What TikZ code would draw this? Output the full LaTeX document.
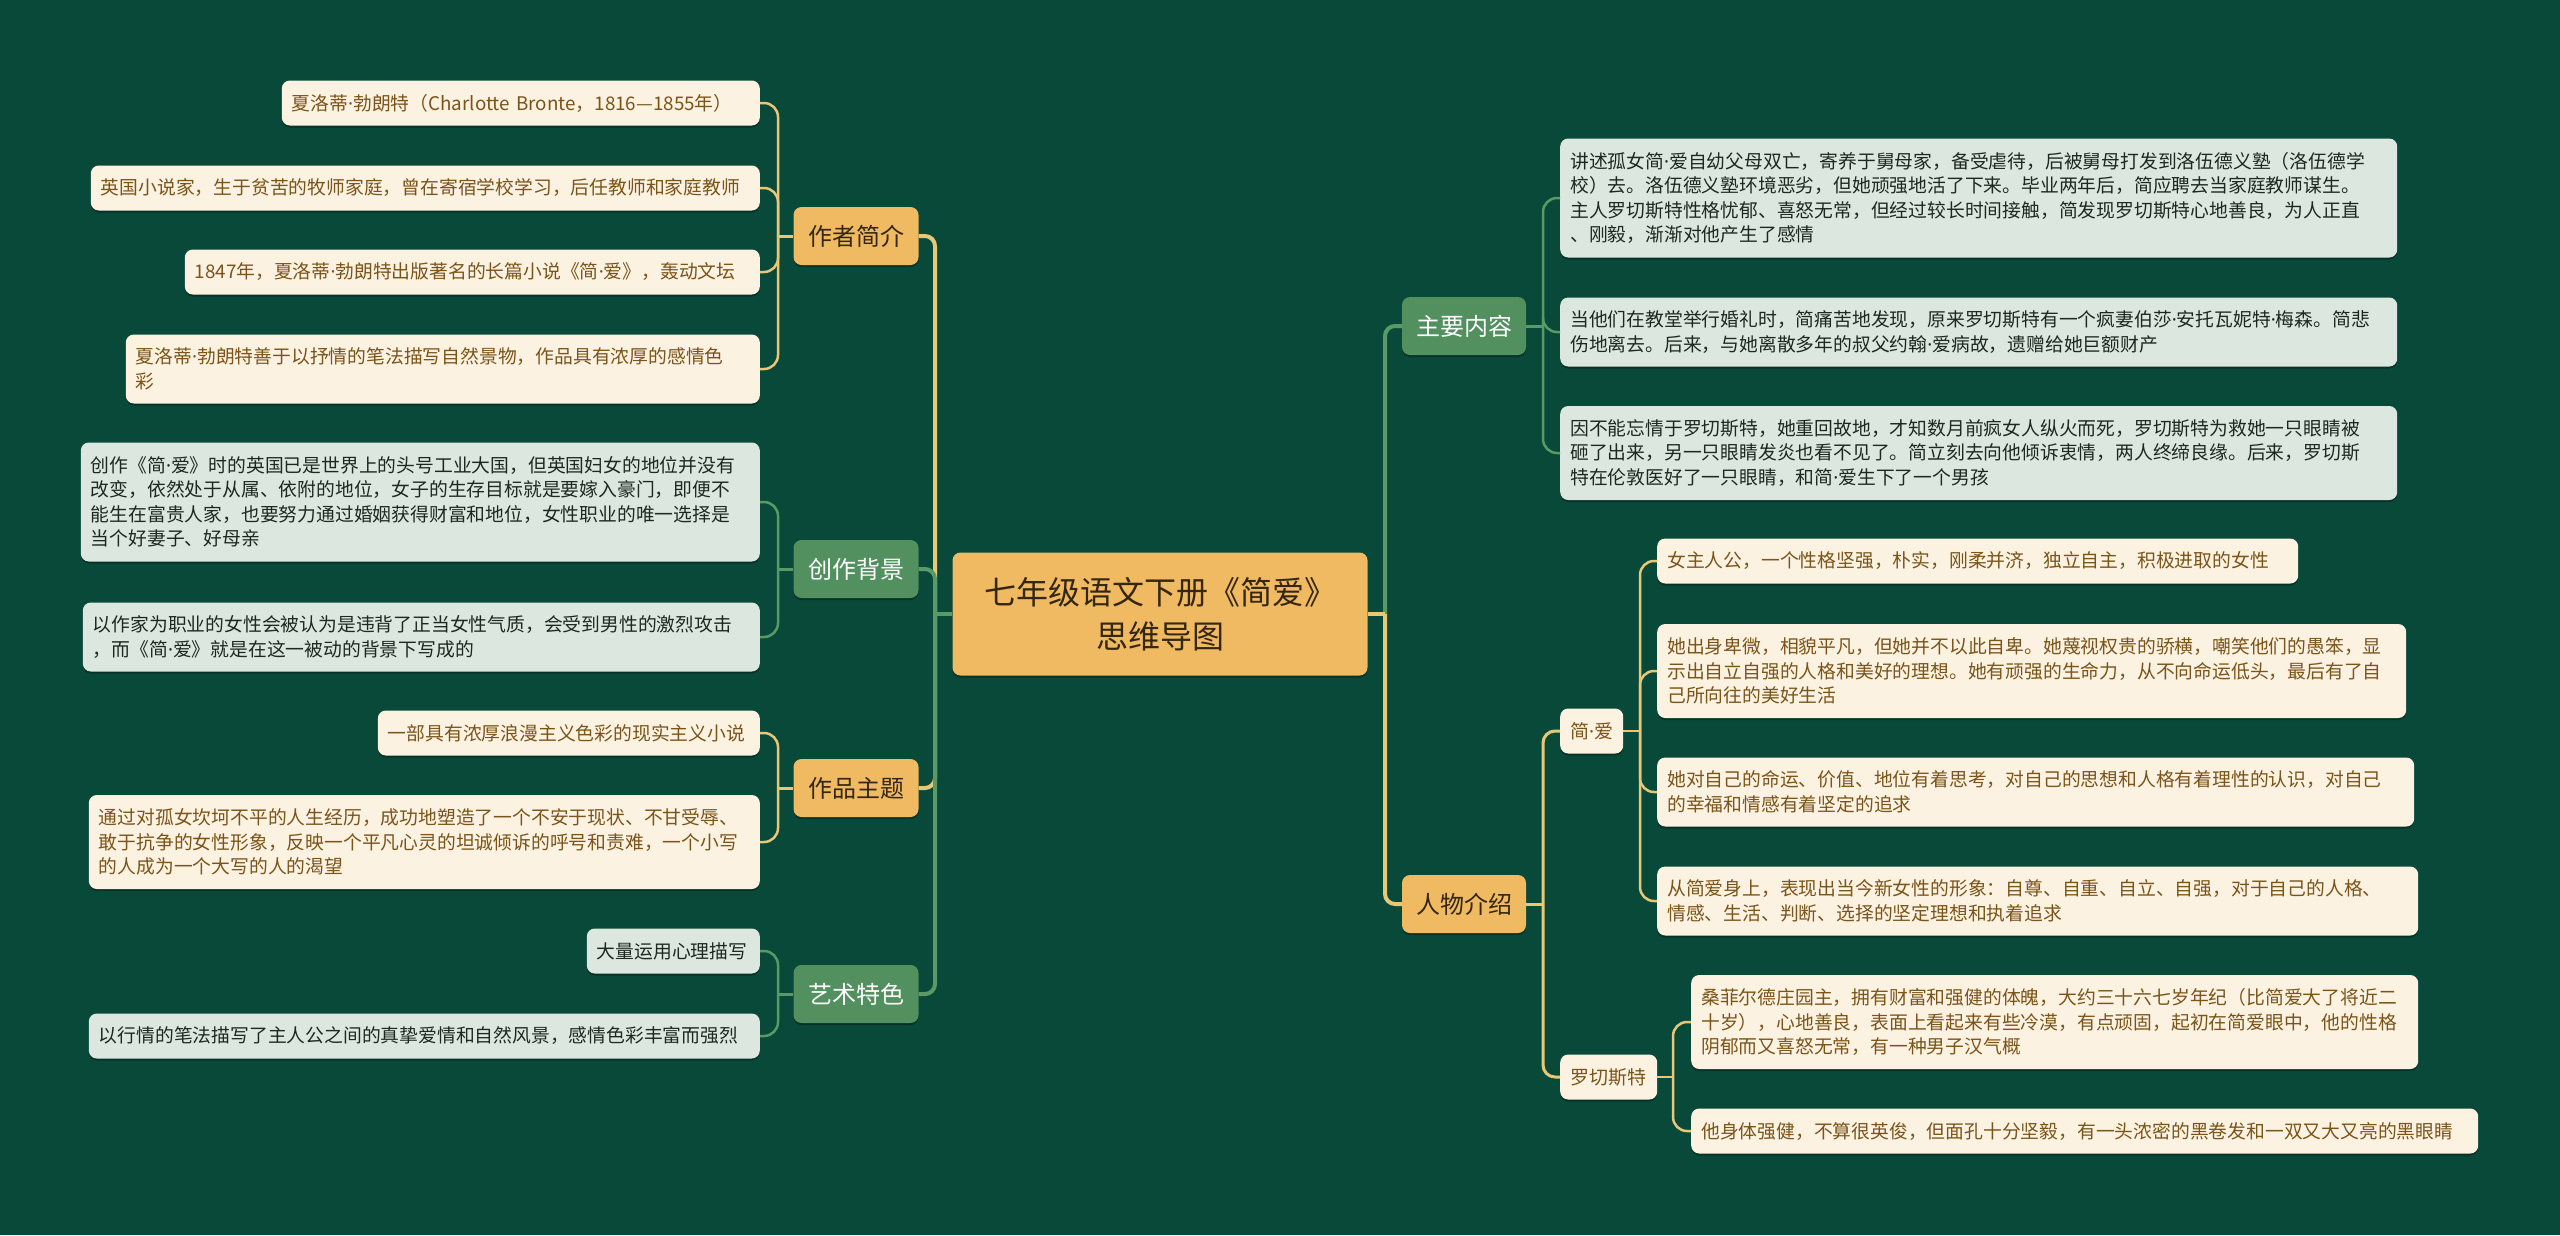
\documentclass[tikz,border=0pt]{standalone}
\usepackage{fontspec}
\setmainfont{Noto Sans CJK SC}
\newfontfamily\dotfont{Noto Sans}
\newcommand{\namedot}{{\dotfont ·}}
\usetikzlibrary{shadows}
\definecolor{bgdark}{RGB}{9,73,57}
\definecolor{mainorange}{RGB}{240,186,98}
\definecolor{maingreen}{RGB}{82,144,95}
\definecolor{leafcream}{RGB}{252,242,226}
\definecolor{leafgreen}{RGB}{220,232,223}
\definecolor{creamtext}{RGB}{122,84,24}
\definecolor{greentext}{RGB}{30,40,34}
\definecolor{darktext}{RGB}{52,38,16}
\definecolor{lineyellow}{RGB}{232,199,118}
\definecolor{linegreen}{RGB}{90,154,102}
\tikzset{
  box/.style={rounded corners=8pt, inner sep=0pt, align=center,
    drop shadow={shadow xshift=0pt, shadow yshift=-2pt, fill=black, opacity=.3}},
  rootbox/.style={box, fill=mainorange, text=darktext, minimum width=415pt,
    minimum height=123pt, font=\fontsize{32}{44}\selectfont},
  topic/.style={box, minimum width=125pt, minimum height=58pt, font=\fontsize{24}{28}\selectfont},
  otopic/.style={topic, fill=mainorange, text=darktext},
  gtopic/.style={topic, fill=maingreen, text=white},
  person/.style={box, fill=leafcream, text=creamtext, minimum height=45pt,
    font=\fontsize{19}{24}\selectfont},
  leaf/.style={box, align=left, inner xsep=10pt, inner ysep=0pt,
    font=\fontsize{18.8}{24.5}\selectfont},
  oleaf/.style={leaf, fill=leafcream, text=creamtext},
  gleaf/.style={leaf, fill=leafgreen, text=greentext},
  rows1/.style={minimum height=45pt},
  rows2/.style={minimum height=69pt},
  rows3/.style={minimum height=94pt},
  rows4/.style={minimum height=119pt},
  trunk/.style={line width=4pt, rounded corners=10pt},
  limb/.style={line width=3pt, rounded corners=12pt},
  twig/.style={line width=2.5pt, rounded corners=14pt}
}

\begin{document}
\begin{tikzpicture}[x=1pt, y=-1pt]
  \path[use as bounding box, fill=bgdark] (0,0) rectangle (2560,1235);

  \node[rootbox] (root) at (1160,614) {七年级语文下册《简爱》\\思维导图};

  \node[otopic] (author) at (856,236) {作者简介};
  \node[gtopic] (backdrop) at (856,569) {创作背景};
  \node[otopic] (theme) at (856,788) {作品主题};
  \node[gtopic] (craft) at (856,994) {艺术特色};
  \node[gtopic, minimum width=124pt] (plot) at (1464,326) {主要内容};
  \node[otopic, minimum width=124pt] (cast) at (1464,904) {人物介绍};
  \node[person, anchor=west, minimum width=63pt] (jane) at (1560,731) {简\namedot 爱};
  \node[person, anchor=west, minimum width=97pt] (roch) at (1560,1077) {罗切斯特};

  \node[oleaf, rows1, anchor=east, text width=458pt] (a1) at (760,103)
    {夏洛蒂\namedot 勃朗特（Charlotte~Bronte，1816—1855年）};
  \node[oleaf, rows1, anchor=east, text width=649pt] (a2) at (760,188)
    {英国小说家，生于贫苦的牧师家庭，曾在寄宿学校学习，后任教师和家庭教师};
  \node[oleaf, rows1, anchor=east, text width=555pt] (a3) at (760,272)
    {1847年，夏洛蒂\namedot 勃朗特出版著名的长篇小说《简\namedot 爱》，轰动文坛};
  \node[oleaf, rows2, anchor=east, text width=614pt] (a4) at (760,369)
    {夏洛蒂\namedot 勃朗特善于以抒情的笔法描写自然景物，作品具有浓厚的感情色\\彩};

  \node[gleaf, rows4, anchor=east, text width=659pt] (b1) at (760,502)
    {创作《简\namedot 爱》时的英国已是世界上的头号工业大国，但英国妇女的地位并没有\\改变，依然处于从属、依附的地位，女子的生存目标就是要嫁入豪门，即便不\\能生在富贵人家，也要努力通过婚姻获得财富和地位，女性职业的唯一选择是\\当个好妻子、好母亲};
  \node[gleaf, rows2, anchor=east, text width=657pt] (b2) at (760,637)
    {以作家为职业的女性会被认为是违背了正当女性气质，会受到男性的激烈攻击\\，而《简\namedot 爱》就是在这一被动的背景下写成的};

  \node[oleaf, rows1, anchor=east, text width=362pt] (c1) at (760,733)
    {一部具有浓厚浪漫主义色彩的现实主义小说};
  \node[oleaf, rows3, anchor=east, text width=651pt] (c2) at (760,842)
    {通过对孤女坎坷不平的人生经历，成功地塑造了一个不安于现状、不甘受辱、\\敢于抗争的女性形象，反映一个平凡心灵的坦诚倾诉的呼号和责难，一个小写\\的人成为一个大写的人的渴望};

  \node[gleaf, rows1, anchor=east, text width=153pt] (d1) at (760,951)
    {大量运用心理描写};
  \node[gleaf, rows1, anchor=east, text width=651pt] (d2) at (760,1036)
    {以行情的笔法描写了主人公之间的真挚爱情和自然风景，感情色彩丰富而强烈};

  \node[gleaf, rows4, anchor=west, text width=817pt] (m1) at (1560,198)
    {讲述孤女简\namedot 爱自幼父母双亡，寄养于舅母家，备受虐待，后被舅母打发到洛伍德义塾（洛伍德学\\校）去。洛伍德义塾环境恶劣，但她顽强地活了下来。毕业两年后，简应聘去当家庭教师谋生。\\主人罗切斯特性格忧郁、喜怒无常，但经过较长时间接触，简发现罗切斯特心地善良，为人正直\\、刚毅，渐渐对他产生了感情};
  \node[gleaf, rows2, anchor=west, text width=817pt] (m2) at (1560,332)
    {当他们在教堂举行婚礼时，简痛苦地发现，原来罗切斯特有一个疯妻伯莎\namedot 安托瓦妮特\namedot 梅森。简悲\\伤地离去。后来，与她离散多年的叔父约翰\namedot 爱病故，遗赠给她巨额财产};
  \node[gleaf, rows3, anchor=west, text width=817pt] (m3) at (1560,453)
    {因不能忘情于罗切斯特，她重回故地，才知数月前疯女人纵火而死，罗切斯特为救她一只眼睛被\\砸了出来，另一只眼睛发炎也看不见了。简立刻去向他倾诉衷情，两人终缔良缘。后来，罗切斯\\特在伦敦医好了一只眼睛，和简\namedot 爱生下了一个男孩};

  \node[oleaf, rows1, anchor=west, text width=621pt] (j1) at (1657,561)
    {女主人公，一个性格坚强，朴实，刚柔并济，独立自主，积极进取的女性};
  \node[oleaf, rows3, anchor=west, text width=729pt] (j2) at (1657,671)
    {她出身卑微，相貌平凡，但她并不以此自卑。她蔑视权贵的骄横，嘲笑他们的愚笨，显\\示出自立自强的人格和美好的理想。她有顽强的生命力，从不向命运低头，最后有了自\\己所向往的美好生活};
  \node[oleaf, rows2, anchor=west, text width=737pt] (j3) at (1657,792)
    {她对自己的命运、价值、地位有着思考，对自己的思想和人格有着理性的认识，对自己\\的幸福和情感有着坚定的追求};
  \node[oleaf, rows2, anchor=west, text width=741pt] (j4) at (1657,901)
    {从简爱身上，表现出当今新女性的形象：自尊、自重、自立、自强，对于自己的人格、\\情感、生活、判断、选择的坚定理想和执着追求};

  \node[oleaf, rows3, anchor=west, text width=707pt] (r1) at (1691,1022)
    {桑菲尔德庄园主，拥有财富和强健的体魄，大约三十六七岁年纪（比简爱大了将近二\\十岁），心地善良，表面上看起来有些冷漠，有点顽固，起初在简爱眼中，他的性格\\阴郁而又喜怒无常，有一种男子汉气概};
  \node[oleaf, rows1, anchor=west, text width=767pt] (r2) at (1691,1131)
    {他身体强健，不算很英俊，但面孔十分坚毅，有一头浓密的黑卷发和一双又大又亮的黑眼睛};

  \coordinate (lj) at (935,614);
  \coordinate (rj) at (1385,614);
  \draw[trunk, lineyellow] (lj) |- (author.east);
  \draw[trunk, linegreen] (lj) |- (backdrop.east);
  \draw[trunk, lineyellow] (lj) |- (theme.east);
  \draw[trunk, linegreen] (lj) |- (craft.east);
  \draw[trunk, linegreen] (root.west) -- (lj);
  \draw[trunk, linegreen] (rj) |- (plot.west);
  \draw[trunk, lineyellow] (rj) |- (cast.west);
  \draw[trunk, lineyellow] (root.east) -- (rj);

  \coordinate (aj) at (778,236);
  \coordinate (bj) at (778,569);
  \coordinate (cj) at (778,788);
  \coordinate (dj) at (778,994);
  \draw[limb, lineyellow] (author.west) -- (aj);
  \foreach \n in {a1,a2,a3,a4} \draw[twig, lineyellow] (aj) |- (\n.east);
  \draw[limb, linegreen] (backdrop.west) -- (bj);
  \foreach \n in {b1,b2} \draw[twig, linegreen] (bj) |- (\n.east);
  \draw[limb, lineyellow] (theme.west) -- (cj);
  \foreach \n in {c1,c2} \draw[twig, lineyellow] (cj) |- (\n.east);
  \draw[limb, linegreen] (craft.west) -- (dj);
  \foreach \n in {d1,d2} \draw[twig, linegreen] (dj) |- (\n.east);

  \coordinate (mj) at (1543,326);
  \coordinate (pj) at (1543,904);
  \coordinate (jj) at (1640,731);
  \coordinate (rcj) at (1673,1077);
  \draw[limb, linegreen] (plot.east) -- (mj);
  \foreach \n in {m1,m2,m3} \draw[twig, linegreen] (mj) |- (\n.west);
  \draw[limb, lineyellow] (cast.east) -- (pj);
  \foreach \n in {jane,roch} \draw[limb, lineyellow] (pj) |- (\n.west);
  \draw[twig, lineyellow] (jane.east) -- (jj);
  \foreach \n in {j1,j2,j3,j4} \draw[twig, lineyellow] (jj) |- (\n.west);
  \draw[twig, lineyellow] (roch.east) -- (rcj);
  \foreach \n in {r1,r2} \draw[twig, lineyellow] (rcj) |- (\n.west);
\end{tikzpicture}
\end{document}
